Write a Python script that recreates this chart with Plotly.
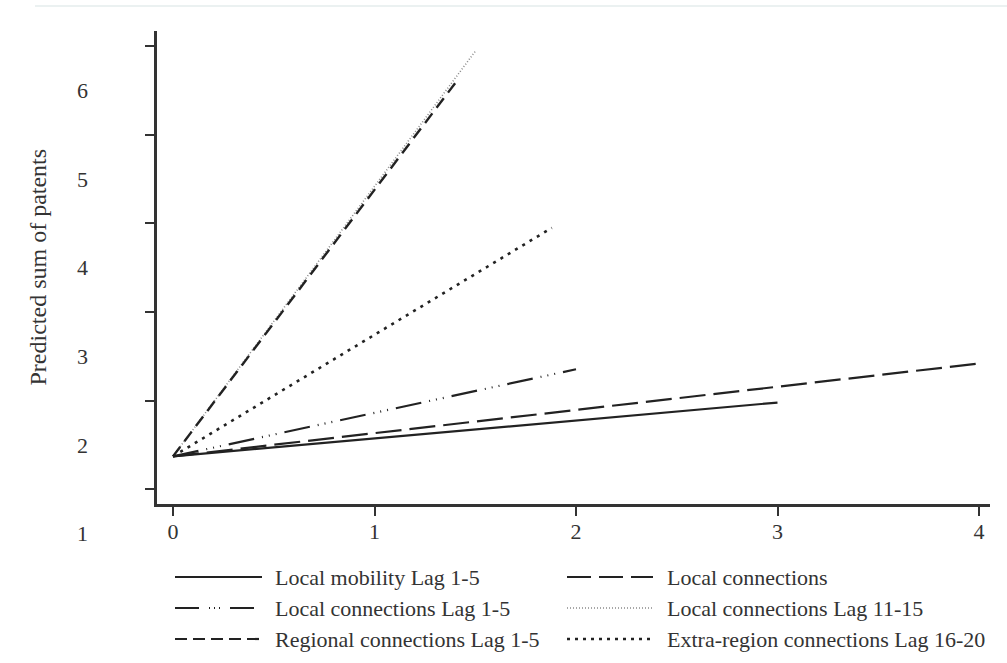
import plotly.graph_objects as go

# ---- data ----
series_names = [
    "Local mobility Lag 1-5",
    "Local connections",
    "Local connections Lag 1-5",
    "Local connections Lag 11-15",
    "Regional connections Lag 1-5",
    "Extra-region connections Lag 16-20",
]
start_x = [0, 0, 0, 0, 0, 0]
start_y = [1.873, 1.873, 1.873, 1.873, 1.873, 1.873]
end_x = [3.0, 4.0, 2.0, 1.5, 1.4, 1.88]
end_y = [2.48, 2.92, 2.855, 6.44, 6.08, 4.45]

x_ticks = [0, 1, 2, 3, 4]
y_tick_marks = [1.5, 2.5, 3.5, 4.5, 5.5, 6.5]
y_tick_labels = [1, 2, 3, 4, 5, 6]
y_title = "Predicted sum of patents"

# ---- styles ----
DARK = "#222222"
TXT = "#333333"
styles = [
    dict(color=DARK, width=2.2, dash="solid"),
    dict(color=DARK, width=2.2, dash="26px,8px"),
    dict(color=DARK, width=2.2, dash="26px,8px,1px,6px,1px,6px,1px,8px"),
    dict(color="#8a8a8a", width=1.6, dash="1px,2px"),
    dict(color=DARK, width=2.4, dash="12px,7px"),
    dict(color=DARK, width=2.6, dash="3px,5.5px"),
]
legend_styles = [
    dict(color=DARK, width=2.2, dash="solid"),
    dict(color=DARK, width=2.2, dash="24px,8px"),
    dict(color=DARK, width=2.2, dash="24px,10px,1px,4px,1px,4px,1px,10px"),
    dict(color="#8a8a8a", width=1.6, dash="1px,2px"),
    dict(color=DARK, width=2.2, dash="12px,6px"),
    dict(color=DARK, width=2.4, dash="3px,5px"),
]

FONT = "Liberation Serif"
FS_TICK = 22
FS_LEG = 22
FS_TITLE = 24

X_RANGE = [-0.0794, 4.0546]
Y_RANGE = [1.336, 6.669]

fig = go.Figure()
for i in range(len(series_names)):
    fig.add_trace(go.Scatter(
        x=[start_x[i], end_x[i]], y=[start_y[i], end_y[i]],
        mode="lines", name=series_names[i], line=styles[i],
        showlegend=False, hoverinfo="skip",
    ))

W, H = 1007, 663
ml, mr, mt, mb = 157, 17, 31, 159
pw, ph = W - ml - mr, H - mt - mb

def px_to_paper_x(px):
    return (px - ml) / pw

def py_to_paper_y(py):
    return (H - mb - py) / ph

def yval_to_paper(v):
    return (v - Y_RANGE[0]) / (Y_RANGE[1] - Y_RANGE[0])

shapes = []
annotations = []

# faint top rule
shapes.append(dict(type="line", xref="paper", yref="paper",
                   x0=px_to_paper_x(35), x1=px_to_paper_x(1007),
                   y0=py_to_paper_y(6), y1=py_to_paper_y(6),
                   line=dict(color="#e4ecec", width=1.5)))

# y labels (offset from tick marks as in the reference)
for v in y_tick_labels:
    annotations.append(dict(x=px_to_paper_x(82), xref="paper",
                            y=yval_to_paper(v), yref="paper",
                            text=str(v), showarrow=False, xanchor="center",
                            yanchor="middle",
                            font=dict(family=FONT, size=FS_TICK, color=TXT)))

# y title
annotations.append(dict(x=px_to_paper_x(37), xref="paper", y=0.5, yref="paper",
                        text=y_title, showarrow=False,
                        textangle=-90, xanchor="center", yanchor="middle",
                        font=dict(family=FONT, size=FS_TITLE, color=TXT)))

# legend (two columns, drawn as shapes + text)
col_sym_x = [(175, 262), (567, 653)]
col_text_x = [273, 665]
row_y = [577, 608, 639]
for k, name in enumerate(series_names):
    r, c = k // 2, k % 2
    shapes.append(dict(type="line", xref="paper", yref="paper",
                       x0=px_to_paper_x(col_sym_x[c][0]), x1=px_to_paper_x(col_sym_x[c][1]),
                       y0=py_to_paper_y(row_y[r]), y1=py_to_paper_y(row_y[r]),
                       line=legend_styles[k]))
    annotations.append(dict(x=px_to_paper_x(col_text_x[c]), xref="paper",
                            y=py_to_paper_y(row_y[r]), yref="paper",
                            text=name, showarrow=False, xanchor="left",
                            yanchor="middle",
                            font=dict(family=FONT, size=FS_LEG, color=TXT)))

fig.update_layout(
    width=W, height=H,
    margin=dict(l=ml, r=mr, t=mt, b=mb),
    paper_bgcolor="white", plot_bgcolor="white",
    showlegend=False,
    shapes=shapes, annotations=annotations,
    font=dict(family=FONT, size=FS_TICK, color=TXT),
)
fig.update_xaxes(
    range=X_RANGE, tickvals=x_ticks, ticktext=[str(t) for t in x_ticks],
    showline=True, linecolor=TXT, linewidth=2.5, mirror=False,
    ticks="outside", ticklen=9, tickwidth=1.5, tickcolor=TXT,
    showgrid=False, zeroline=False, ticklabelstandoff=-3,
    tickfont=dict(family=FONT, size=FS_TICK, color=TXT),
)
fig.update_yaxes(
    range=Y_RANGE, tickvals=y_tick_marks, showticklabels=False,
    showline=True, linecolor=TXT, linewidth=2.5, mirror=False,
    ticks="outside", ticklen=9, tickwidth=1.5, tickcolor=TXT,
    showgrid=False, zeroline=False,
)

fig.write_html("out.html", config={"displayModeBar": False},
               post_script="document.body.style.margin='0';")
